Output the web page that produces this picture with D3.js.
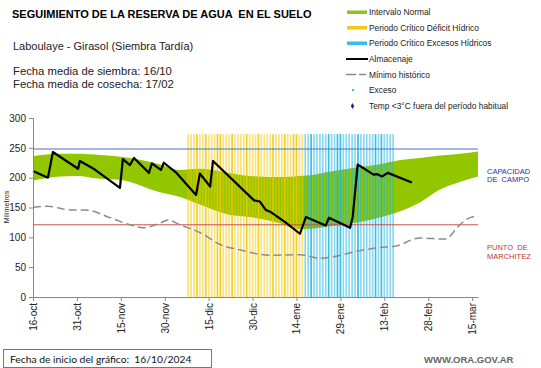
<!DOCTYPE html>
<html>
<head>
<meta charset="utf-8">
<script src="https://cdn.jsdelivr.net/npm/d3@7"></script>
<style>
  body { margin: 0; background: #fff; }
  svg { display: block; font-family: "Liberation Sans", Arial, sans-serif; }
  text { white-space: pre; }
</style>
</head>
<body>
<svg width="541" height="368"></svg>
<script>
// dias desde 16-oct
const tickDays = [0, 15, 30, 45, 60, 75, 90, 105, 120, 135, 150];
const tickLabels = ["16-oct", "31-oct", "15-nov", "30-nov", "15-dic", "30-dic",
                    "14-ene", "29-ene", "13-feb", "28-feb", "15-mar"];

// Intervalo normal (banda verde)
const bandDays  = [0, 9, 15, 23, 30, 43, 50, 57, 67, 74, 84, 91, 96, 101, 112, 118, 125, 132, 139, 146, 152];
const bandUpper = [236, 240, 240, 238, 235, 223, 213, 215, 208, 203, 201, 203, 205, 210, 218, 222, 229, 233, 237, 240, 244];
const bandLower = [195, 202, 203, 198, 196, 176, 168, 155, 138, 134, 124, 114, 115, 118, 126, 133, 143, 158, 180, 193, 202];

// Almacenaje
const almDays = [0, 5.1, 6.8, 15.4, 16, 21, 29.7, 30.7, 33.1, 34.5, 39.6, 40.6, 43.7, 44.7, 48.8,
                 55.7, 57, 60.5, 61.5, 75.5, 77.5, 79.5, 81, 86, 91.2, 93.2, 100, 101.1, 108.3,
                 109.2, 110.9, 116.3, 117.5, 119.2, 121.2, 129.4];
const almValues = [211, 200, 243, 215, 228, 214, 183, 231, 221, 233, 208, 224, 213, 225, 209,
                   171, 207, 185, 228, 162, 160, 146, 143, 126, 106, 134, 120, 133, 116,
                   134, 222, 205, 206, 202, 208, 192];

// Minimo historico
const minDays = [0, 5, 12.6, 17.8, 26.3, 33.1, 37.6, 43.4, 46.1, 50.2, 57, 63.9, 70.7, 81, 91.2,
                 98, 103.1, 110, 118.5, 123.6, 132.2, 140.7, 145.8, 149.3, 152];
const minValues = [150, 152, 146, 146, 133, 121, 116, 124, 129, 121, 108, 88, 79, 70, 71,
                   65, 68, 76, 83, 85, 99, 97, 121, 133, 135];

const capCampo = 248;
const puntoMarchitez = 121;

// periodos criticos: un trazo por dia, 1 = claro, 2 = intenso
const deficitStart = 53;
const deficitLevels = [1, 1, 1, 2, 1, 1, 2, 1, 1, 1, 2, 2, 1, 1, 1, 2, 1, 1, 1, 1,
                       2, 1, 1, 1, 2, 1, 1, 1, 1, 2, 1, 1, 1, 2, 1, 1, 2, 2, 1, 1];
const excesoStart = 93;
const excesoLevels = [1, 1, 2, 1, 1, 1, 1, 1, 2, 1, 1, 2, 2, 1, 1, 1, 1, 1, 2, 1,
                      1, 1, 1, 1, 2, 1, 2, 1, 1, 1, 1];

const svg = d3.select("svg");

const x = d3.scaleLinear().domain([0, 152]).range([33, 478]);
const y = d3.scaleLinear().domain([0, 300]).range([297, 118]);

// banda verde
const bandData = bandDays.map((d, i) => ({ d: d, lo: bandLower[i], hi: bandUpper[i] }));
svg.append("path")
  .datum(bandData)
  .attr("fill", "#92c700")
  .attr("d", d3.area().x(p => x(p.d)).y0(p => y(p.lo)).y1(p => y(p.hi)).curve(d3.curveMonotoneX));

// franjas de periodos criticos
function stripes(start, levels, color) {
  svg.append("g").selectAll("rect")
    .data(levels)
    .join("rect")
      .attr("x", (l, i) => x(start + i) - 0.85)
      .attr("width", 1.7)
      .attr("y", y(273))
      .attr("height", y(0) - y(273))
      .attr("fill", color)
      .attr("opacity", l => l === 2 ? 0.85 : 0.5);
}
stripes(deficitStart, deficitLevels, "#f1c700");
stripes(excesoStart, excesoLevels, "#19b4e0");

// lineas de referencia
svg.append("line")
  .attr("x1", x(0)).attr("x2", x(152))
  .attr("y1", y(capCampo)).attr("y2", y(capCampo))
  .attr("stroke", "#4a73c4").attr("stroke-width", 1);
svg.append("line")
  .attr("x1", x(0)).attr("x2", x(152))
  .attr("y1", y(puntoMarchitez)).attr("y2", y(puntoMarchitez))
  .attr("stroke", "#c4504c").attr("stroke-width", 1);

// minimo historico
svg.append("path")
  .datum(minDays.map((d, i) => [d, minValues[i]]))
  .attr("fill", "none")
  .attr("stroke", "#8c8c8c")
  .attr("stroke-width", 1.5)
  .attr("stroke-dasharray", "8,4")
  .attr("d", d3.line().x(p => x(p[0])).y(p => y(p[1])).curve(d3.curveMonotoneX));

// almacenaje
svg.append("path")
  .datum(almDays.map((d, i) => [d, almValues[i]]))
  .attr("fill", "none")
  .attr("stroke", "#000")
  .attr("stroke-width", 2.2)
  .attr("stroke-linejoin", "round")
  .attr("d", d3.line().x(p => x(p[0])).y(p => y(p[1])));

// ejes
const yAxis = svg.append("g")
  .attr("transform", "translate(33,0)")
  .call(d3.axisLeft(y).tickValues([0, 50, 100, 150, 200, 250, 300]).tickSize(4).tickPadding(3));
yAxis.select(".domain").attr("stroke", "#888");
yAxis.selectAll(".tick line").attr("stroke", "#888");
yAxis.selectAll(".tick text").attr("font-size", 10).attr("fill", "#222")
  .attr("font-family", "Liberation Sans, Arial, sans-serif");

const xAxis = svg.append("g")
  .attr("transform", "translate(0,297)")
  .call(d3.axisBottom(x).tickValues(tickDays).tickFormat((d, i) => tickLabels[i]).tickSize(4).tickSizeOuter(0));
xAxis.select(".domain").attr("stroke", "#888");
xAxis.selectAll(".tick line").attr("stroke", "#888");
xAxis.selectAll(".tick text")
  .attr("font-size", 10).attr("fill", "#222")
  .attr("font-family", "Liberation Sans, Arial, sans-serif")
  .attr("transform", "rotate(-90)")
  .attr("text-anchor", "end")
  .attr("x", -6).attr("y", 0).attr("dy", "0.35em");

svg.append("text")
  .attr("transform", "translate(9,207) rotate(-90)")
  .attr("text-anchor", "middle")
  .attr("font-size", 7).attr("fill", "#222")
  .text("Milímetros");

// etiquetas a la derecha
const rightLabels = [
  { t: "CAPACIDAD", v: 174, c: "#2e2ea0" },
  { t: "DE  CAMPO", v: 182, c: "#2e2ea0" },
  { t: "PUNTO  DE", v: 250, c: "#c0392b" },
  { t: "MARCHITEZ", v: 259, c: "#c0392b" }
];
svg.selectAll(".rl").data(rightLabels).join("text")
  .attr("x", 487).attr("y", d => d.v)
  .attr("font-size", 7.5).attr("fill", d => d.c)
  .text(d => d.t);

// titulos
svg.append("text").attr("x", 12).attr("y", 18)
  .attr("font-size", 11).attr("font-weight", "bold").attr("fill", "#000")
  .text("SEGUIMIENTO DE LA RESERVA DE AGUA  EN EL SUELO");
svg.append("text").attr("x", 13).attr("y", 50)
  .attr("font-size", 11).attr("fill", "#222")
  .text("Laboulaye - Girasol (Siembra Tardía)");
svg.append("text").attr("x", 13).attr("y", 75)
  .attr("font-size", 11.3).attr("fill", "#222")
  .text("Fecha media de siembra: 16/10");
svg.append("text").attr("x", 13).attr("y", 88)
  .attr("font-size", 11.3).attr("fill", "#222")
  .text("Fecha media de cosecha: 17/02");

// leyenda
const legendItems = ["Intervalo Normal", "Periodo Crítico Déficit Hídrico", "Periodo Crítico Excesos Hídricos",
                     "Almacenaje", "Mínimo histórico", "Exceso", "Temp <3°C fuera del período habitual"];
const legendY = [12, 27.5, 43, 59, 74.5, 90, 106];
const lg = svg.append("g");
lg.selectAll("text").data(legendItems).join("text")
  .attr("x", 369).attr("y", (d, i) => legendY[i] + 3)
  .attr("font-size", 8.4).attr("fill", "#222")
  .text(d => d);
[["#8dc21f", 0], ["#f5c518", 1], ["#33bfe8", 2]].forEach(s => {
  lg.append("rect").attr("x", 347).attr("y", legendY[s[1]] - 1.5)
    .attr("width", 20).attr("height", 3.5).attr("fill", s[0]);
});
lg.append("line").attr("x1", 346).attr("x2", 368)
  .attr("y1", legendY[3]).attr("y2", legendY[3])
  .attr("stroke", "#000").attr("stroke-width", 2);
lg.append("line").attr("x1", 346).attr("x2", 368)
  .attr("y1", legendY[4]).attr("y2", legendY[4])
  .attr("stroke", "#8c8c8c").attr("stroke-width", 1.5).attr("stroke-dasharray", "10,3,7");
lg.append("rect").attr("x", 352).attr("y", legendY[5] - 1)
  .attr("width", 2).attr("height", 2).attr("fill", "#2cc4e8");
lg.append("path").attr("transform", `translate(352.5,${legendY[6]})`)
  .attr("d", d3.symbol(d3.symbolDiamond, 10)())
  .attr("fill", "#1f1fa0");

// pie
svg.append("rect").attr("x", 3.5).attr("y", 349.5).attr("width", 208).attr("height", 18)
  .attr("fill", "#fff").attr("stroke", "#8a6f6f").attr("stroke-width", 1);
svg.append("text").attr("x", 10).attr("y", 363)
  .attr("font-size", 10.3).attr("fill", "#111")
  .attr("font-family", "Lato, sans-serif")
  .text("Fecha de inicio del gráfico:  16/10/2024");
svg.append("text").attr("x", 424).attr("y", 363)
  .attr("font-size", 9.5).attr("font-weight", "bold").attr("fill", "#666")
  .text("WWW.ORA.GOV.AR");
</script>
</body>
</html>
